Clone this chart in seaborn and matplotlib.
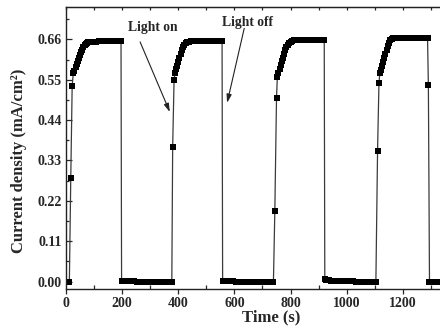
import numpy as np
import pandas as pd
import matplotlib
matplotlib.use("Agg")
import matplotlib.pyplot as plt
from matplotlib.ticker import MultipleLocator, FormatStrFormatter
import seaborn as sns

# ---- data ----
time_1 = [12, 17, 22, 26, 30, 34, 38, 42, 46, 50, 54, 58, 62, 66, 70, 74, 78, 84, 92, 100,
          108, 116, 124, 132, 140, 148, 156, 164, 172, 180, 188, 196,
          198, 204, 212, 220, 228, 236, 244, 252, 260, 268, 276, 284, 292, 300, 308, 316,
          324, 332, 340, 348, 356, 364, 372]
current_1 = [0.000, 0.283, 0.534, 0.567, 0.575, 0.584, 0.593, 0.601, 0.609, 0.617, 0.625, 0.632,
             0.639, 0.644, 0.648, 0.651, 0.652, 0.653, 0.654, 0.654,
             0.654, 0.655, 0.655, 0.655, 0.655, 0.655, 0.655, 0.655, 0.655, 0.655, 0.655, 0.655,
             0.003, 0.002, 0.002, 0.001, 0.001, 0.001, 0.001, 0.000, 0.000, 0.000, 0.000, 0.000,
             0.000, 0.000, 0.000, 0.000, 0.000, 0.000, 0.000, 0.000, 0.000, 0.000, 0.000]

time_2 = [377, 380, 385, 388, 392, 396, 400, 404, 408, 412, 416, 420, 426, 432, 438, 446, 454,
          462, 470, 478, 486, 494, 502, 510, 518, 526, 534, 542, 550, 556,
          558, 564, 572, 580, 588, 596, 604, 612, 620, 628, 636, 644, 652, 660, 668, 676, 684,
          692, 700, 708, 716, 724, 732]
current_2 = [0.000, 0.366, 0.549, 0.568, 0.578, 0.588, 0.598, 0.609, 0.620, 0.630, 0.638, 0.644,
             0.649, 0.652, 0.654, 0.655, 0.655,
             0.655, 0.656, 0.656, 0.656, 0.656, 0.656, 0.656, 0.656, 0.656, 0.656, 0.656, 0.656, 0.656,
             0.002, 0.002, 0.001, 0.001, 0.001, 0.001, 0.000, 0.000, 0.000, 0.000, 0.000, 0.000,
             0.000, 0.000, 0.000, 0.000, 0.000, 0.000, 0.000, 0.000, 0.000, 0.000, 0.000]

time_3 = [739, 744, 750, 753, 757, 761, 765, 769, 773, 777, 781, 785, 790, 795, 800, 806, 812,
          820, 828, 836, 844, 852, 860, 868, 876, 884, 892, 900, 908, 916, 920,
          922, 928, 936, 944, 952, 960, 968, 976, 984, 992, 1000, 1008, 1016, 1024, 1032, 1040,
          1048, 1056, 1064, 1072, 1080, 1088, 1096, 1100]
current_3 = [0.000, 0.192, 0.501, 0.558, 0.568, 0.578, 0.589, 0.600, 0.610, 0.620, 0.630, 0.638,
             0.645, 0.650, 0.653, 0.656, 0.657,
             0.658, 0.658, 0.658, 0.658, 0.658, 0.658, 0.658, 0.658, 0.658, 0.658, 0.658, 0.658,
             0.658, 0.658,
             0.0065, 0.005, 0.004, 0.003, 0.003, 0.002, 0.002, 0.002, 0.001, 0.001, 0.001, 0.001,
             0.001, 0.001, 0.000, 0.000, 0.000, 0.000, 0.000, 0.000, 0.000, 0.000, 0.000, 0.000]

time_4 = [1104, 1110, 1115, 1118, 1122, 1126, 1130, 1134, 1138, 1142, 1146, 1150, 1155, 1160,
          1166, 1172, 1180, 1188, 1196, 1204, 1212, 1220, 1228, 1236, 1244, 1252, 1260, 1268,
          1276, 1284, 1288, 1291,
          1295, 1302, 1310, 1318, 1326, 1334, 1342, 1350, 1358, 1366, 1374, 1382, 1390, 1398,
          1406, 1414, 1422, 1430, 1438, 1446]
current_4 = [0.000, 0.357, 0.542, 0.567, 0.577, 0.588, 0.599, 0.610, 0.620, 0.631, 0.641, 0.650,
             0.657, 0.661, 0.663, 0.664, 0.665, 0.665, 0.665, 0.665, 0.665, 0.665, 0.665, 0.665,
             0.665, 0.665, 0.665, 0.665, 0.665, 0.665, 0.665, 0.536,
             0.000, 0.000, 0.000, 0.000, 0.000, 0.000, 0.000, 0.000, 0.000, 0.000, 0.000, 0.000,
             0.000, 0.000, 0.000, 0.000, 0.000, 0.000, 0.000, 0.000]

y_ticks = [0.00, 0.11, 0.22, 0.33, 0.44, 0.55, 0.66]
x_ticks = [0, 200, 400, 600, 800, 1000, 1200]

df = pd.DataFrame({
    "Time (s)": time_1 + time_2 + time_3 + time_4,
    "Current": current_1 + current_2 + current_3 + current_4,
})

# ---- style ----
sns.set_style("ticks")
plt.rcParams["font.family"] = ["Liberation Serif", "DejaVu Serif"]
plt.rcParams["font.weight"] = "bold"
plt.rcParams["axes.labelweight"] = "bold"

fig = plt.figure(figsize=(4.4, 3.29), dpi=100)
# axes extends past the right edge of the figure (as in the cropped reference)
ax = fig.add_axes([0.15, 0.1216, 0.925, 0.857])

sns.lineplot(data=df, x="Time (s)", y="Current", sort=False, estimator=None,
             marker="s", markersize=4.4, markeredgewidth=0,
             markerfacecolor="black", color="#3a3a3a", linewidth=0.9, ax=ax)

ax.set_xlim(0, 1450)
ax.set_ylim(-0.02, 0.748)
ax.set_xticks(x_ticks)
ax.set_yticks(y_ticks)
ax.yaxis.set_major_formatter(FormatStrFormatter("%.2f"))
ax.xaxis.set_minor_locator(MultipleLocator(100))
ax.yaxis.set_minor_locator(MultipleLocator(0.055))

for s in ax.spines.values():
    s.set_linewidth(1.0)
    s.set_color("#222222")

ax.tick_params(axis="x", which="major", direction="out", length=3.5, width=0.9,
               labelsize=10, pad=2, top=False)
ax.tick_params(axis="x", which="minor", direction="in", length=3, width=0.9, top=False)
ax.tick_params(axis="y", which="major", direction="in", length=4, width=0.9,
               labelsize=10, pad=3, right=False)
ax.tick_params(axis="y", which="minor", direction="in", length=2.5, width=0.9, right=False)
for lab in ax.get_xticklabels() + ax.get_yticklabels():
    lab.set_fontweight("bold")

sec = ax.secondary_xaxis("top")
sec.set_xticks(x_ticks + [1400])
sec.xaxis.set_minor_locator(MultipleLocator(100))
sec.tick_params(which="both", direction="in", length=2.5, width=0.9, labeltop=False)

ax.set_xlabel("Time (s)", fontsize=12, fontweight="bold")
ax.set_ylabel("Current density (mA/cm²)", fontsize=12, fontweight="bold")
ax.xaxis.set_label_coords(0.503, -0.073)
ax.yaxis.set_label_coords(-0.095, 0.454)

# annotations
ax.text(308, 0.692, "Light on", fontsize=9.8, fontweight="bold", ha="center", va="center")
ax.annotate("", xy=(370, 0.462), xytext=(264, 0.653),
            arrowprops=dict(arrowstyle="-|>,head_length=0.5,head_width=0.15",
                            color="#222222", lw=0.8, shrinkA=0, shrinkB=0))
ax.text(645, 0.705, "Light off", fontsize=9.8, fontweight="bold", ha="center", va="center")
ax.annotate("", xy=(574, 0.487), xytext=(635, 0.690),
            arrowprops=dict(arrowstyle="-|>,head_length=0.5,head_width=0.15",
                            color="#222222", lw=0.8, shrinkA=0, shrinkB=0))

fig.savefig("out.png", dpi=100)
